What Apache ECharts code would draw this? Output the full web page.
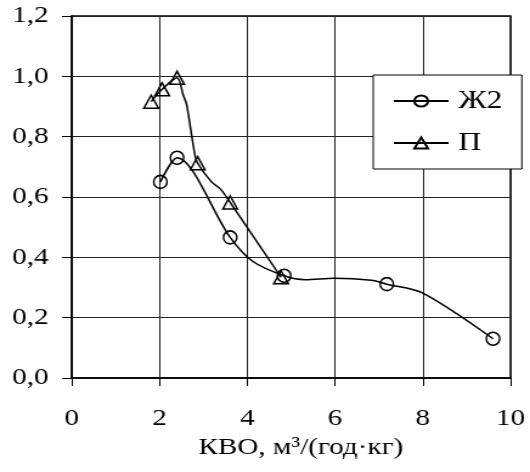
<!DOCTYPE html>
<html>
<head>
<meta charset="utf-8">
<script src="https://cdn.jsdelivr.net/npm/echarts@6/dist/echarts.min.js"></script>
<style>
    html, body { margin: 0; padding: 0; background: #fff; overflow: hidden; }
    /* the source picture is stretched sideways, so draw narrower and widen */
    #chart { width: 436px; height: 472px; transform: scaleX(1.2156); transform-origin: 0 0; }
</style>
</head>
<body>
<div id="chart"></div>
<script>
// ---DATA (mark = 1 where a marker is drawn)
var zh2X    = [2.02, 2.40, 3.61, 4.13, 4.84, 5.32, 5.98, 6.83, 7.18, 7.99, 9.60];
var zh2Y    = [0.65, 0.73, 0.466, 0.386, 0.339, 0.326, 0.331, 0.324, 0.311, 0.282, 0.13];
var zh2Mark = [1, 1, 1, 0, 1, 0, 0, 0, 1, 0, 1];

var pX    = [1.81, 2.06, 2.40, 2.54, 2.62, 2.80, 2.87, 3.18, 3.39, 3.61, 4.77];
var pY    = [0.916, 0.957, 0.995, 0.938, 0.905, 0.745, 0.712, 0.651, 0.626, 0.582, 0.334];
var pMark = [1, 1, 1, 0, 0, 0, 1, 0, 0, 1, 1];

var xTicks = [0, 2, 4, 6, 8, 10];
var yTicks = ['0,0', '0,2', '0,4', '0,6', '0,8', '1,0', '1,2'];

var FONT = 'Liberation Serif';

function buildData(xs, ys, marks) {
    var out = [];
    for (var i = 0; i < xs.length; i++) {
        var item = { value: [xs[i], ys[i]] };
        if (!marks[i]) item.symbol = 'none';
        out.push(item);
    }
    return out;
}

var chart = echarts.init(document.getElementById('chart'));
var option = {
    animation: false,
    backgroundColor: '#fff',
    textStyle: { fontFamily: FONT, color: '#000' },
    grid: {
        left: 59,
        right: 16,
        top: 16,
        bottom: 94,
        show: true,
        borderColor: '#000',
        borderWidth: 1.5
    },
    legend: {
        orient: 'vertical',
        left: 307,
        top: 75,
        width: 110,
        height: 90,
        padding: [13, 16, 13, 16],
        itemWidth: 45,
        itemHeight: 14,
        itemGap: 16,
        backgroundColor: '#fff',
        borderColor: '#000',
        borderWidth: 1,
        textStyle: { fontFamily: FONT, fontSize: 26, color: '#000', padding: [0, 0, 0, 3] },
        data: ['Ж2', 'П']
    },
    xAxis: {
        type: 'value',
        min: 0,
        max: 10,
        interval: 2,
        name: 'КВО, м³/(год·кг)',
        nameLocation: 'middle',
        nameGap: 47,
        nameTextStyle: { fontFamily: FONT, fontSize: 24, color: '#000', padding: [0, 0, 0, 16] },
        axisLine: { show: true, onZero: false, lineStyle: { color: '#000', width: 1.5 } },
        axisTick: { show: true, inside: false, length: 8, lineStyle: { color: '#000', width: 1 } },
        axisLabel: {
            margin: 29,
            fontFamily: FONT,
            fontSize: 24,
            color: '#000',
            formatter: function (val) {
                return xTicks.indexOf(val) >= 0 ? String(val) : '';
            }
        },
        splitLine: { show: true, lineStyle: { color: '#222', width: 1 } }
    },
    yAxis: {
        type: 'value',
        min: 0,
        max: 1.2,
        interval: 0.2,
        axisLine: { show: true, onZero: false, lineStyle: { color: '#000', width: 1.5 } },
        axisTick: { show: true, inside: false, length: 8, lineStyle: { color: '#000', width: 1 } },
        axisLabel: {
            margin: 19,
            fontFamily: FONT,
            fontSize: 24,
            color: '#000',
            formatter: function (val) {
                return yTicks[Math.round(val / 0.2)];
            }
        },
        splitLine: { show: true, lineStyle: { color: '#222', width: 1 } }
    },
    series: [{
        name: 'Ж2',
        type: 'line',
        smooth: 0.3,
        symbol: 'circle',
        symbolSize: [11, 13],
        showAllSymbol: true,
        lineStyle: { color: '#000', width: 1.5 },
        itemStyle: { color: 'rgba(255,255,255,0)', borderColor: '#000', borderWidth: 1.5 },
        data: buildData(zh2X, zh2Y, zh2Mark)
    }, {
        name: 'П',
        type: 'line',
        smooth: 0.3,
        symbol: 'triangle',
        symbolSize: [12, 13],
        showAllSymbol: true,
        lineStyle: { color: '#000', width: 1.5 },
        itemStyle: { color: 'rgba(255,255,255,0)', borderColor: '#000', borderWidth: 1.5 },
        data: buildData(pX, pY, pMark)
    }]
};
chart.setOption(option);
</script>
</body>
</html>
